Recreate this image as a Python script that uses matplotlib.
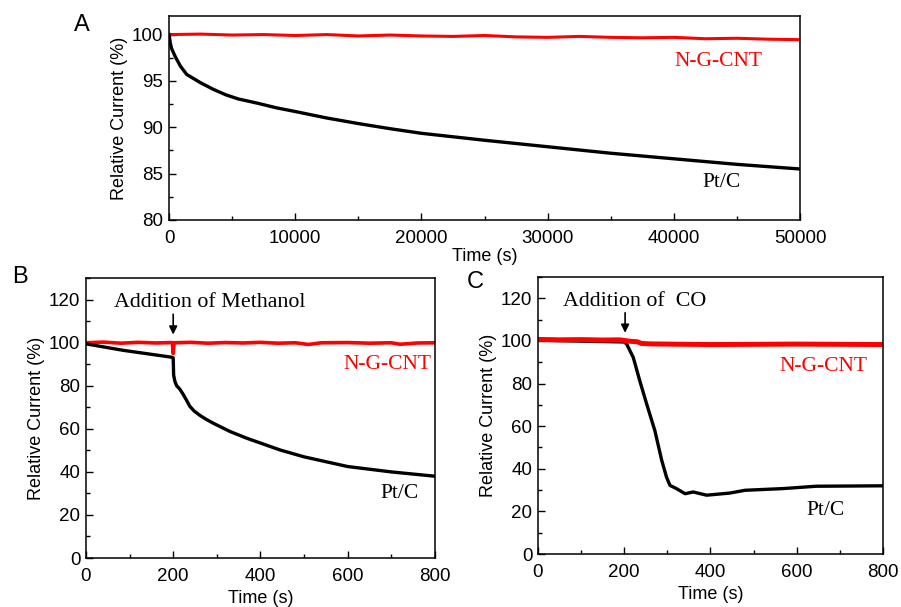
import numpy as np
import matplotlib.pyplot as plt
from matplotlib.ticker import MultipleLocator

# ---- panel A : long-term stability
a_t_pt = [0, 100, 200, 500, 900, 1400, 2500, 3500, 4500, 5500, 7000, 8500, 10000,
          12500, 15000, 17500, 20000, 25000, 30000, 35000, 40000, 45000, 50000]
a_pt = [100, 99.1, 98.5, 97.6, 96.6, 95.7, 94.8, 94.1, 93.5, 93.05, 92.6, 92.1, 91.7,
        91.0, 90.4, 89.85, 89.35, 88.6, 87.9, 87.2, 86.6, 86.0, 85.5]
a_t_ng = [0, 2500, 5000, 7500, 10000, 12500, 15000, 17500, 20000, 22500, 25000,
          27500, 30000, 32500, 35000, 37500, 40000, 42500, 45000, 47500, 50000]
a_ng = [100.0, 100.05, 99.95, 100.0, 99.9, 100.0, 99.85, 99.95, 99.85, 99.8, 99.9,
        99.75, 99.7, 99.8, 99.7, 99.65, 99.7, 99.55, 99.6, 99.5, 99.45]

# ---- panel B : methanol crossover
b_t_pt = [0, 85, 196, 200, 201, 204, 208, 215, 223, 230, 238, 248, 261, 275, 292,
          330, 368, 445, 500, 600, 700, 800]
b_pt = [99.5, 96.5, 93.3, 93.0, 85.0, 82.0, 80.0, 78.5, 76.0, 73.5, 70.5, 68.3,
        66.3, 64.5, 62.6, 58.8, 55.7, 50.2, 47.0, 42.5, 40.0, 38.0]
b_t_ng = [0, 40, 80, 120, 160, 198, 200, 202, 240, 280, 320, 360, 400, 440, 480,
          510, 540, 600, 650, 700, 720, 760, 800]
b_ng = [100.0, 100.3, 99.8, 100.2, 99.9, 100.1, 95.0, 100.0, 100.2, 99.8, 100.1,
        99.9, 100.2, 99.8, 100.0, 99.2, 100.0, 100.1, 99.8, 100.0, 99.3, 99.9, 100.0]

# ---- panel C : CO poisoning
c_t_pt = [0, 200, 206, 221, 236, 252, 271, 287, 298, 306, 321, 341, 360, 391,
          445, 480, 568, 645, 800]
c_pt = [100.3, 99.5, 98.4, 92.2, 81.3, 70.4, 57.9, 43.9, 36.1, 32.2, 30.7, 28.3,
        29.1, 27.6, 28.6, 29.9, 30.7, 31.8, 32.0]
c_t_ng = [0, 50, 100, 150, 190, 200, 215, 230, 240, 260, 300, 400, 500, 600, 700, 800]
c_ng = [100.7, 100.5, 100.6, 100.4, 100.5, 100.2, 99.8, 99.6, 98.8, 98.6, 98.5,
        98.3, 98.4, 98.5, 98.4, 98.3]

sans = ['Liberation Sans', 'DejaVu Sans']
serif = ['Liberation Serif', 'DejaVu Serif']
plt.rcParams['font.family'] = sans
plt.rcParams['axes.linewidth'] = 1.1

fig = plt.figure(figsize=(9.01, 6.07), dpi=100)
axA = fig.add_axes([0.1876, 0.6376, 0.7003, 0.336])
axB = fig.add_axes([0.0954, 0.0807, 0.3873, 0.461])
axC = fig.add_axes([0.5971, 0.0873, 0.3829, 0.4564])


def style(ax):
    ax.tick_params(which='both', direction='in', top=False, right=False,
                   labelsize=13.5, width=1.0, pad=4)
    ax.tick_params(axis='x', which='both', pad=7)
    ax.tick_params(which='major', length=5)
    ax.tick_params(which='minor', length=3)
    ax.set_xlabel('Time (s)', fontsize=13, labelpad=4)
    ax.set_ylabel('Relative Current (%)', fontsize=13, labelpad=3)


# A
axA.plot(a_t_ng, a_ng, color='#ff0000', lw=2.2)
axA.plot(a_t_pt, a_pt, color='black', lw=2.4)
axA.set_xlim(0, 50000)
axA.set_ylim(80, 102)
axA.xaxis.set_major_locator(MultipleLocator(10000))
axA.xaxis.set_minor_locator(MultipleLocator(5000))
axA.yaxis.set_major_locator(MultipleLocator(5))
axA.yaxis.set_minor_locator(MultipleLocator(2.5))
style(axA)
axA.xaxis.labelpad = 1
axA.text(43500, 97.1, 'N-G-CNT', color='#ff0000', fontsize=15.5, family=serif,
         ha='center', va='center')
axA.text(43800, 84.0, 'Pt/C', color='black', fontsize=15.5, family=serif,
         ha='center', va='center')

# B
axB.plot(b_t_ng, b_ng, color='#ff0000', lw=2.6)
axB.plot(b_t_pt, b_pt, color='black', lw=2.4)
axB.set_xlim(0, 800)
axB.set_ylim(0, 130)
axB.set_yticks([0, 20, 40, 60, 80, 100, 120])
axB.xaxis.set_major_locator(MultipleLocator(200))
axB.xaxis.set_minor_locator(MultipleLocator(100))
axB.yaxis.set_minor_locator(MultipleLocator(10))
style(axB)
axB.annotate('', xy=(200, 102.5), xytext=(200, 114.5),
             arrowprops=dict(arrowstyle='-|>', color='black', lw=1.2,
                             mutation_scale=12))
axB.text(284, 118.6, 'Addition of Methanol', fontsize=15.8, family=serif,
         ha='center', va='center')
axB.text(692, 89.8, 'N-G-CNT', color='#ff0000', fontsize=15.5, family=serif,
         ha='center', va='center')
axB.text(718, 30.2, 'Pt/C', color='black', fontsize=15.5, family=serif,
         ha='center', va='center')

# C
axC.plot(c_t_pt, c_pt, color='black', lw=2.4)
axC.plot(c_t_ng, c_ng, color='#ff0000', lw=3.6)
axC.set_xlim(0, 800)
axC.set_ylim(0, 130)
axC.set_yticks([0, 20, 40, 60, 80, 100, 120])
axC.xaxis.set_major_locator(MultipleLocator(200))
axC.xaxis.set_minor_locator(MultipleLocator(100))
axC.yaxis.set_minor_locator(MultipleLocator(10))
style(axC)
axC.annotate('', xy=(202, 102.5), xytext=(202, 114.5),
             arrowprops=dict(arrowstyle='-|>', color='black', lw=1.2,
                             mutation_scale=12))
axC.text(225, 118.3, 'Addition of  CO', fontsize=15.8, family=serif,
         ha='center', va='center')
axC.text(663, 87.9, 'N-G-CNT', color='#ff0000', fontsize=15.5, family=serif,
         ha='center', va='center')
axC.text(668, 20.6, 'Pt/C', color='black', fontsize=15.5, family=serif,
         ha='center', va='center')

# panel letters
fig.text(0.091, 0.959, 'A', fontsize=17, ha='center', va='center')
fig.text(0.022, 0.544, 'B', fontsize=17, ha='center', va='center')
fig.text(0.527, 0.535, 'C', fontsize=17, ha='center', va='center')

fig.savefig('out.png', dpi=100)
